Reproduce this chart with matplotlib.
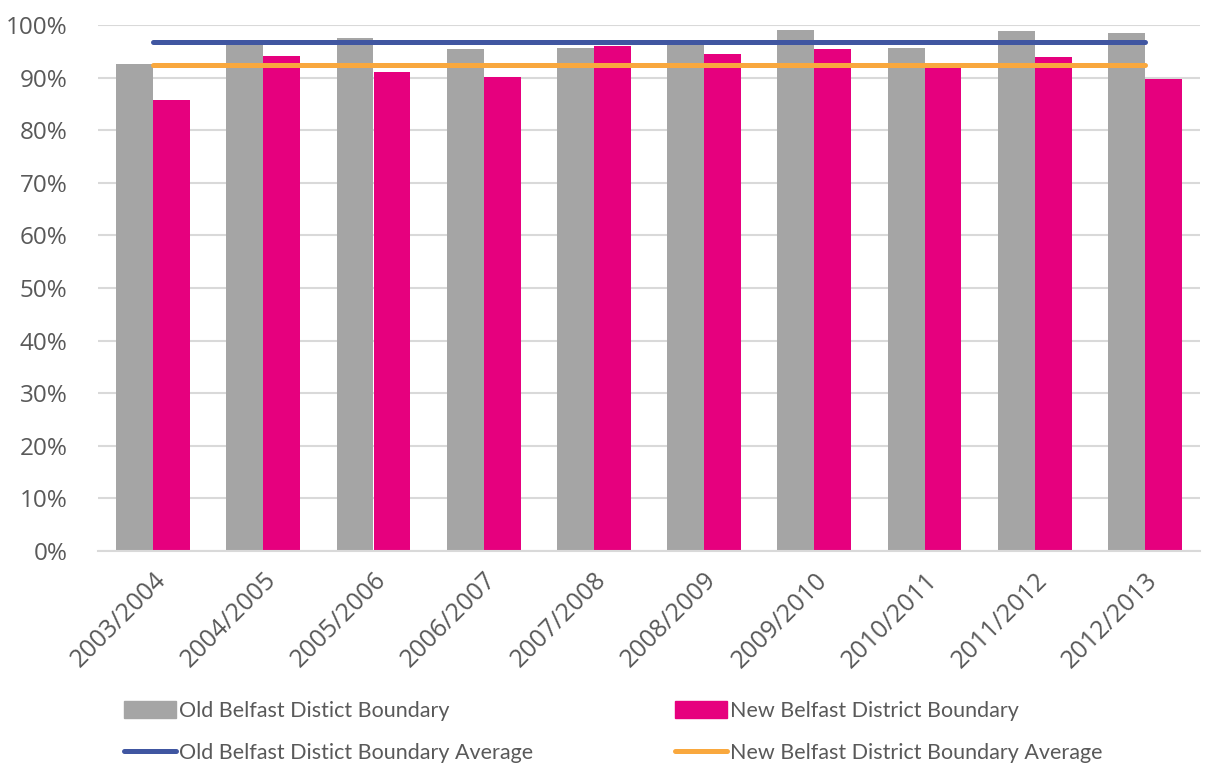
import matplotlib
matplotlib.use("Agg")
import matplotlib.pyplot as plt
from matplotlib.patches import Patch
from matplotlib.lines import Line2D
import numpy as np

years = ["2003/2004", "2004/2005", "2005/2006", "2006/2007", "2007/2008",
         "2008/2009", "2009/2010", "2010/2011", "2011/2012", "2012/2013"]
old_boundary = [92.5, 96.6, 97.6, 95.4, 95.6, 96.7, 99.0, 95.7, 98.9, 98.4]
new_boundary = [85.8, 94.2, 91.1, 90.2, 96.1, 94.5, 95.5, 92.5, 93.9, 89.7]
old_average = [96.7] * len(years)
new_average = [92.4] * len(years)
yticks = [0, 10, 20, 30, 40, 50, 60, 70, 80, 90, 100]

GRAY = "#A5A5A5"
PINK = "#E6007E"
BLUE = "#4056A1"
ORANGE = "#F9A83E"
TXT = "#595959"

fig = plt.figure(figsize=(12.08, 7.67), dpi=100)
ax = fig.add_axes([98/1208, (767-551)/767, (1200-98)/1208, (551-25)/767])

x = np.arange(len(years))
w = 0.335
ax.bar(x - w/2, old_boundary, width=w, color=GRAY, zorder=2)
ax.bar(x + w/2, new_boundary, width=w, color=PINK, zorder=2)
ax.plot(x, old_average, color=BLUE, lw=3.6, solid_capstyle="round", zorder=3)
ax.plot(x, new_average, color=ORANGE, lw=3.6, solid_capstyle="round", zorder=3)

ax.set_xlim(-0.5, len(years) - 0.5)
ax.set_ylim(0, 100)
ax.set_yticks(yticks)
ax.set_yticklabels([f"{t}%" for t in yticks], fontsize=17.5, color=TXT, family="Open Sans")
ax.set_xticks(x)
ax.set_xticklabels(years, rotation=45, ha="right", va="top", rotation_mode="anchor",
                   fontsize=18, color=TXT, family="Open Sans")
ax.tick_params(axis="both", length=0)
ax.tick_params(axis="y", pad=22)
ax.tick_params(axis="x", pad=12)
for s in ["top", "right", "left"]:
    ax.spines[s].set_visible(False)
ax.spines["bottom"].set_color("#D9D9D9")
ax.spines["bottom"].set_linewidth(1.5)
ax.yaxis.grid(True, color="#D9D9D9", lw=1.5, zorder=0)
ax.set_axisbelow(True)

handles = [Patch(color=GRAY), Line2D([], [], color=BLUE, lw=3.6, solid_capstyle="round"),
           Patch(color=PINK), Line2D([], [], color=ORANGE, lw=3.6, solid_capstyle="round")]
labels = ["Old Belfast Distict Boundary", "Old Belfast Distict Boundary Average",
          "New Belfast District Boundary", "New Belfast District Boundary Average"]
fig.legend(handles, labels, ncol=2, loc="upper left", bbox_to_anchor=(124/1208, 1 - 701/767),
           frameon=False, prop={"family": "Lato", "size": 15.5}, labelcolor=TXT,
           handlelength=2.4, handleheight=0.8, handletextpad=0.15, columnspacing=6.6,
           labelspacing=1.0, borderaxespad=0, borderpad=0)

fig.savefig("out.png", dpi=100)
